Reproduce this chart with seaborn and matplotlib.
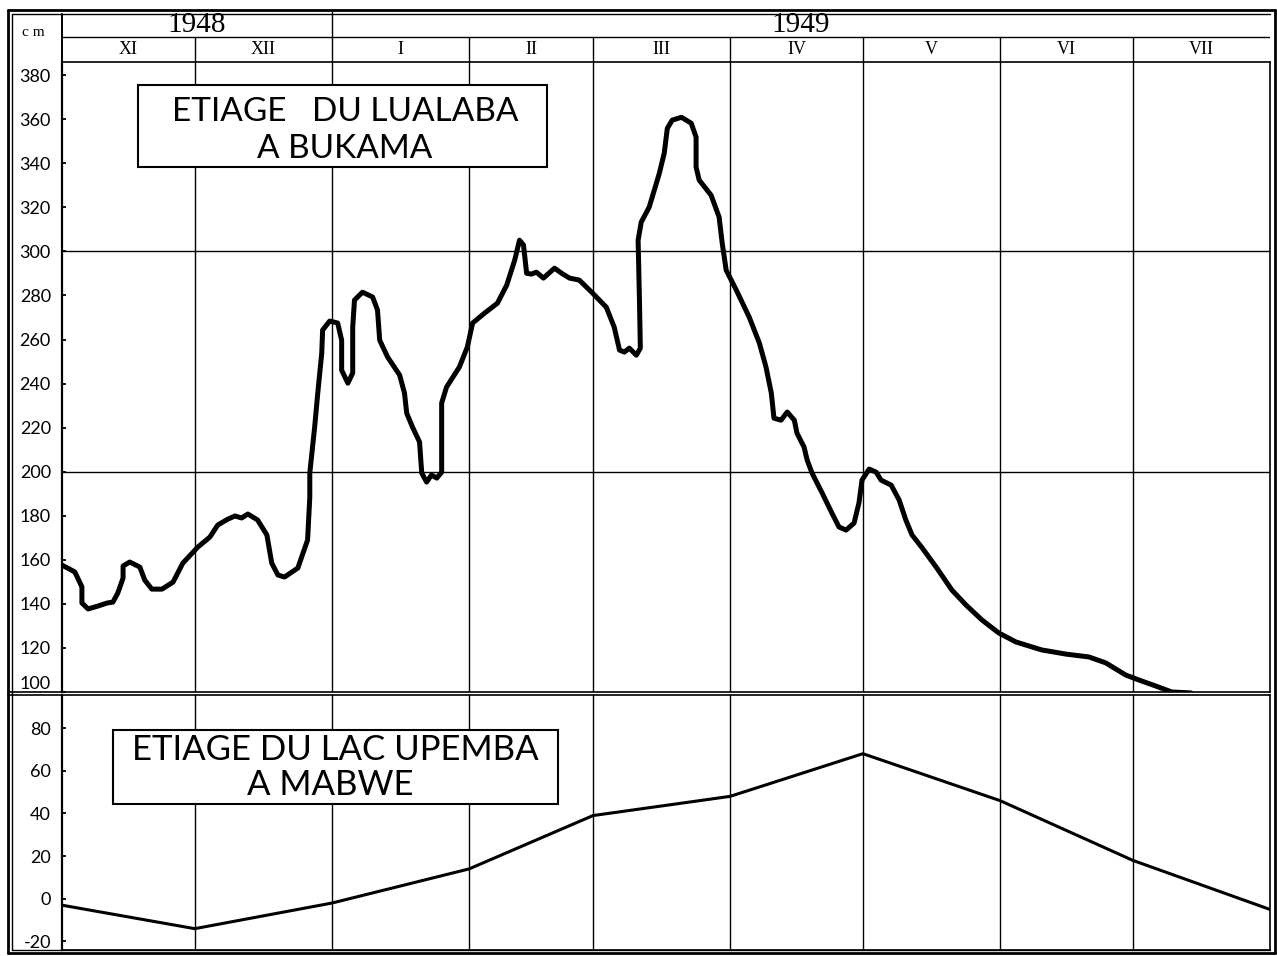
import numpy as np
import matplotlib
matplotlib.use("Agg")
import matplotlib.pyplot as plt
import seaborn as sns
from matplotlib.patches import Rectangle
from matplotlib.lines import Line2D

sns.set_theme(style="white")
plt.rcParams['font.family'] = ['Lato', 'DejaVu Sans']
plt.rcParams['text.color'] = 'black'
plt.rcParams['ytick.color'] = 'black'
plt.rcParams['xtick.color'] = 'black'
plt.rcParams['axes.labelcolor'] = 'black'

# ---------------- data ----------------
month_labels = ["XI", "XII", "I", "II", "III", "IV", "V", "VI", "VII"]
month_days = [30, 31, 31, 28, 31, 30, 31, 30, 31]
year_labels = ["1948", "1949"]
year_month_counts = [2, 7]

# Lualaba at Bukama (days since 1 Nov 1948, cm)
lualaba_day = [0, 2.9, 4.5, 4.5, 5.9, 8.1, 10.2, 11.5, 12.6, 13.8,
               13.8, 15.3, 17.6, 18.7, 20.3, 22.6, 25.1, 27.3, 30.7, 33.4,
               35.2, 37.5, 39.1, 40.6, 42.0, 44.2, 46.3, 47.4, 48.8, 50.3,
               53.3, 55.5, 56.0, 56.0, 57.1, 57.8, 58.7, 58.9, 60.5, 62.3,
               63.2, 63.2, 64.6, 65.7, 65.7, 66.1, 67.9, 70.2, 71.3, 71.8,
               73.6, 76.3, 77.4, 77.9, 79.2, 80.8, 81.3, 82.4, 83.5, 84.7,
               85.8, 85.8, 86.9, 89.8, 91.6, 92.8, 95.5, 98.4, 100.5, 102.3,
               103.4, 104.3, 105.0, 106.1, 107.2, 108.8, 111.3, 112.9, 114.7, 116.9,
               119.9, 123.0, 124.8, 126.0, 127.1, 128.2, 129.8, 130.7, 130.5, 130.2,
               130.9, 132.7, 135.0, 136.1, 136.8, 137.9, 140.0, 142.2, 143.3, 143.3,
               144.0, 146.7, 148.5, 149.2, 150.1, 152.4, 155.3, 157.6, 159.1, 160.3,
               160.9, 162.5, 163.9, 165.5, 166.1, 167.7, 168.4, 169.5, 171.8, 174.0,
               175.6, 177.2, 179.0, 180.1, 180.8, 182.4, 184.0, 185.1, 187.4, 189.2,
               190.7, 192.1, 194.4, 197.7, 201.1, 204.3, 207.9, 211.7, 215.6, 221.4,
               226.9, 232.1, 235.9, 240.4, 243.3, 247.2, 250.8, 255.1]
lualaba_cm = [157.6, 154.5, 147.7, 140.4, 137.7, 139.0, 140.4, 140.8, 144.9, 151.7,
              157.2, 159.0, 156.7, 150.8, 146.7, 146.7, 149.9, 158.5, 165.8, 170.3,
              175.8, 178.5, 179.9, 179.0, 180.8, 178.1, 171.3, 158.5, 153.1, 152.2,
              156.3, 169.0, 188.5, 199.4, 220.3, 235.7, 253.8, 264.3, 268.4, 267.5,
              259.7, 246.1, 240.2, 244.8, 265.6, 277.9, 281.5, 279.3, 273.4, 259.7,
              252.0, 243.9, 235.7, 226.6, 220.3, 213.5, 199.4, 195.3, 198.5, 197.1,
              199.8, 231.2, 238.4, 247.5, 256.6, 267.5, 272.0, 276.5, 284.7, 296.0,
              305.1, 302.9, 290.1, 289.7, 290.6, 287.9, 292.4, 290.1, 287.9, 287.0,
              281.1, 274.7, 265.6, 255.2, 254.3, 256.1, 252.9, 256.1, 277.9, 305.1,
              313.3, 320.1, 335.5, 344.6, 355.9, 359.6, 360.9, 358.2, 351.9, 338.3,
              332.4, 325.5, 315.6, 303.8, 291.5, 282.4, 270.2, 258.4, 247.5, 235.7,
              224.3, 223.4, 227.1, 223.4, 217.5, 211.2, 205.3, 199.4, 190.3, 181.2,
              174.9, 173.5, 176.7, 185.8, 196.2, 201.2, 199.8, 196.2, 193.9, 187.1,
              178.1, 171.3, 165.4, 156.3, 146.3, 139.5, 132.7, 126.8, 122.7, 119.1,
              117.2, 115.9, 113.2, 107.7, 105.5, 102.7, 100.0, 99.6]

# Lac Upemba at Mabwe (monthly readings, cm)
upemba_day = [0, 30, 61, 92, 120, 151, 181, 212, 242, 273]
upemba_cm = [-3, -14, -2, 14, 39, 48, 68, 46, 18, -5]

top_ticks = list(range(100, 381, 20))
bottom_ticks = list(range(-20, 81, 20))

title_top = ["ETIAGE   DU LUALABA", "A BUKAMA"]
title_bottom = ["ETIAGE DU LAC UPEMBA", "A MABWE"]
unit_label = "c m"

# ---------------- layout ----------------
W, H = 1277, 956
fig = plt.figure(figsize=(W / 100, H / 100), dpi=100)
fig.patch.set_facecolor("white")


def px_rect(x0, y0, x1, y1):
    return [x0 / W, 1 - y1 / H, (x1 - x0) / W, (y1 - y0) / H]


def fig_line(x0, y0, x1, y1, lw=1.0):
    fig.add_artist(Line2D([x0 / W, x1 / W], [1 - y0 / H, 1 - y1 / H],
                          transform=fig.transFigure, color="black", lw=lw))


bounds = np.concatenate([[0], np.cumsum(month_days)])
xmax = bounds[-1]

ax_head = fig.add_axes(px_rect(62, 12, 1270, 62))
ax_top = fig.add_axes(px_rect(62, 62, 1270, 692))
ax_bot = fig.add_axes(px_rect(62, 695, 1270, 950))

serif = ["Liberation Serif", "DejaVu Serif"]

# ----- header -----
ax_head.set_xlim(0, xmax)
ax_head.set_ylim(0, 2)
ax_head.axis("off")
ax_head.axhline(1, color="black", lw=1.0)
for b in bounds[1:-1]:
    ax_head.plot([b, b], [0, 1], color="black", lw=1.0)
for i, lab in enumerate(month_labels):
    ax_head.text((bounds[i] + bounds[i + 1]) / 2, 0.5, lab, ha="center", va="center",
                 fontsize=13, family=serif)
ystart = 0
for lab, n in zip(year_labels, year_month_counts):
    x0, x1 = bounds[ystart], bounds[ystart + n]
    ax_head.text((x0 + x1) / 2, 0.95, lab, ha="center", va="bottom",
                 fontsize=21, family=serif)
    if ystart > 0:
        ax_head.plot([x0, x0], [1, 2], color="black", lw=1.0)
    ystart += n

fig.text(33 / W, 1 - 33 / H, unit_label, ha="center", va="center", fontsize=11, family=serif)

# ----- top panel -----
sns.lineplot(x=lualaba_day, y=lualaba_cm, sort=False, estimator=None, ax=ax_top,
             color="black", lw=3.6, solid_joinstyle="round", solid_capstyle="round")
ax_top.set_xlim(0, xmax)
ax_top.set_ylim(100, 386)
for b in bounds[1:-1]:
    ax_top.axvline(b, color="black", lw=1.0)
for g in (200, 300):
    ax_top.axhline(g, color="black", lw=1.0)
ax_top.set_yticks(top_ticks)
labs = ax_top.set_yticklabels([str(t) for t in top_ticks])
labs[0].set_va("bottom")
ax_top.set_xticks([])

# ----- bottom panel -----
sns.lineplot(x=upemba_day, y=upemba_cm, sort=False, estimator=None, ax=ax_bot,
             color="black", lw=2.2)
ax_bot.set_xlim(0, xmax)
ax_bot.set_ylim(-24, 95.5)
for b in bounds[1:-1]:
    ax_bot.axvline(b, color="black", lw=1.0)
ax_bot.set_yticks(bottom_ticks)
ax_bot.set_yticklabels([str(t) for t in bottom_ticks])
ax_bot.set_xticks([])

for ax in (ax_top, ax_bot):
    ax.set_xlabel("")
    ax.set_ylabel("")
    ax.set_facecolor("white")
    ax.grid(False)
    for s in ax.spines.values():
        s.set_color("black")
        s.set_linewidth(1.2)
    ax.spines["left"].set_linewidth(1.6)
    ax.tick_params(axis="y", direction="in", length=3, width=1.3, pad=8,
                   labelsize=13, colors="black", left=True)

# ----- title boxes -----
ax_top.add_patch(Rectangle((0.0629, 0.8333), 0.4015 - 0.0629, 0.9635 - 0.8333,
                           transform=ax_top.transAxes, fill=True, facecolor="white",
                           edgecolor="black", lw=1.5, zorder=5))
ax_top.text(0.2343, 0.921, title_top[0], transform=ax_top.transAxes, ha="center",
            va="center", fontsize=24, color="black", zorder=6)
ax_top.text(0.2343, 0.862, title_top[1], transform=ax_top.transAxes, ha="center",
            va="center", fontsize=24, color="black", zorder=6)

ax_bot.add_patch(Rectangle((0.0422, 0.5725), 0.4106 - 0.0422, 0.8627 - 0.5725,
                           transform=ax_bot.transAxes, fill=True, facecolor="white",
                           edgecolor="black", lw=1.5, zorder=5))
ax_bot.text(0.226, 0.785, title_bottom[0], transform=ax_bot.transAxes, ha="center",
            va="center", fontsize=25, color="black", zorder=6)
ax_bot.text(0.222, 0.648, title_bottom[1], transform=ax_bot.transAxes, ha="center",
            va="center", fontsize=25, color="black", zorder=6)

# ----- frame -----
fig_line(8, 10, 1275, 10, 2.0)
fig_line(8, 953, 1275, 953, 2.0)
fig_line(8, 10, 8, 953, 2.0)
fig_line(1275, 10, 1275, 953, 2.0)
fig_line(12, 14, 1270, 14, 1.0)
fig_line(12, 950, 1270, 950, 1.0)
fig_line(12, 14, 12, 950, 1.0)
fig_line(62, 14, 62, 62, 1.4)
fig_line(8, 692, 62, 692, 1.2)
fig_line(8, 695, 62, 695, 1.2)

fig.savefig("out.png", dpi=100, facecolor="white")
